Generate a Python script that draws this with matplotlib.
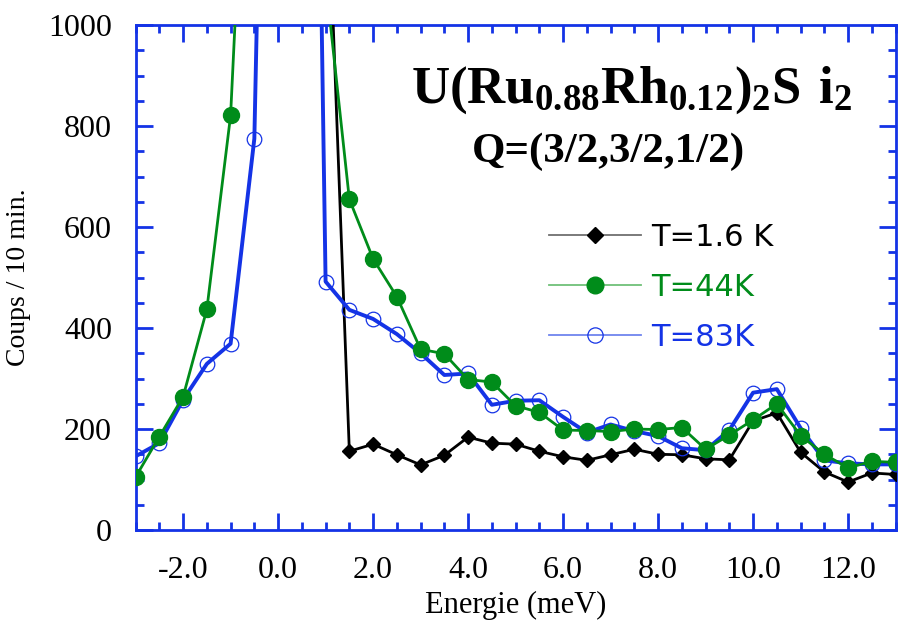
import matplotlib
matplotlib.use("Agg")
import matplotlib.pyplot as plt
from matplotlib.lines import Line2D
from matplotlib.ticker import MultipleLocator, FormatStrFormatter

plt.rcParams['font.family'] = 'Liberation Serif'
plt.rcParams['axes.unicode_minus'] = False
plt.rcParams['mathtext.fontset'] = 'custom'
plt.rcParams['mathtext.rm'] = 'Liberation Serif'
plt.rcParams['mathtext.bf'] = 'Liberation Serif:bold'

# data (values above 1000 are off-scale estimates)
energy = [-3.0, -2.5, -2.0, -1.5, -1.0, -0.5, 0.0, 0.5, 1.0, 1.5, 2.0, 2.5,
          3.0, 3.5, 4.0, 4.5, 5.0, 5.5, 6.0, 6.5, 7.0, 7.5, 8.0, 8.5,
          9.0, 9.5, 10.0, 10.5, 11.0, 11.5, 12.0, 12.5, 13.0]
energy_16 = energy[8:]

counts_16 = [1400, 156, 170, 149, 129, 148, 184, 172, 170, 156, 145, 138, 149,
             160, 150, 149, 141, 139, 216, 232, 154, 115, 95, 113, 110]
counts_44 = [105, 185, 264, 437, 821, 1800, 3000, 2500, 1090, 655, 537, 462,
             358, 349, 298, 293, 246, 233, 198, 197, 195, 200, 199, 203,
             160, 188, 218, 250, 187, 150, 123, 136, 134]
counts_83 = [146, 172, 258, 329, 369, 775, 3000, 3600, 492, 436, 418, 388,
             350, 307, 310, 248, 256, 257, 224, 193, 209, 196, 186, 162,
             158, 198, 272, 279, 202, 138, 132, 130, 130]

labels = ['T=1.6 K', 'T=44K', 'T=83K']
c_black = 'black'
c_green = '#008c1a'
c_blue = '#1433e6'

fig = plt.figure(figsize=(8.98, 6.21), dpi=100)
ax = fig.add_axes([0.151, 0.1465, 0.8463, 0.8132])

ax.plot(energy_16, counts_16, color=c_black, lw=2, marker='D', ms=7.5,
        mfc=c_black, mec=c_black, zorder=3)
ax.plot(energy, counts_83, color=c_blue, lw=2.8, marker='o', ms=10.5,
        mfc='none', mec=c_blue, mew=0.9, zorder=4)
ax.plot(energy, counts_44, color=c_green, lw=2, marker='o', ms=11.5,
        mfc=c_green, mec=c_green, zorder=5)

ax.set_xlim(-3, 13)
ax.set_ylim(0, 1000)
ax.xaxis.set_major_locator(MultipleLocator(2))
ax.xaxis.set_minor_locator(MultipleLocator(0.5))
ax.yaxis.set_major_locator(MultipleLocator(200))
ax.yaxis.set_minor_locator(MultipleLocator(50))
ax.xaxis.set_major_formatter(FormatStrFormatter('%.1f'))

for s in ax.spines.values():
    s.set_color(c_blue)
    s.set_linewidth(2)
ax.tick_params(which='both', direction='in', top=True, right=True,
               color=c_blue, width=2, labelsize=23)
ax.tick_params(which='major', length=12)
ax.tick_params(which='minor', length=6)
ax.tick_params(axis='x', pad=19)
ax.tick_params(axis='y', pad=17)

ax.set_xlabel('Energie (meV)', fontsize=22, labelpad=4)
ax.set_ylabel('Coups / 10 min.', fontsize=20, labelpad=12)

ax.text(0.653, 0.8455, r'$\mathbf{U(Ru_{0.88}Rh_{0.12})_{2}S\ i_{2}}$',
        transform=ax.transAxes, ha='center', va='baseline', fontsize=38)
ax.text(0.6216, 0.7287, 'Q=(3/2,3/2,1/2)', transform=ax.transAxes,
        ha='center', va='baseline', fontsize=31, fontweight='bold')

handles = [
    Line2D([], [], color='#707070', lw=1.3, marker='D', ms=8, mfc=c_black, mec=c_black),
    Line2D([], [], color='#70c078', lw=1.3, marker='o', ms=12, mfc=c_green, mec=c_green),
    Line2D([], [], color='#7085ee', lw=1.3, marker='o', ms=11, mfc='none', mec=c_blue, mew=0.9),
]
leg = ax.legend(handles, labels, loc='upper left', bbox_to_anchor=(0.528, 0.632),
                frameon=False, prop={'family': 'DejaVu Sans', 'size': 22},
                handlelength=3.0, handletextpad=0.33, labelspacing=0.68,
                numpoints=1, borderaxespad=0)
for t, c in zip(leg.get_texts(), [c_black, c_green, c_blue]):
    t.set_color(c)

fig.savefig('out.png', dpi=100)
